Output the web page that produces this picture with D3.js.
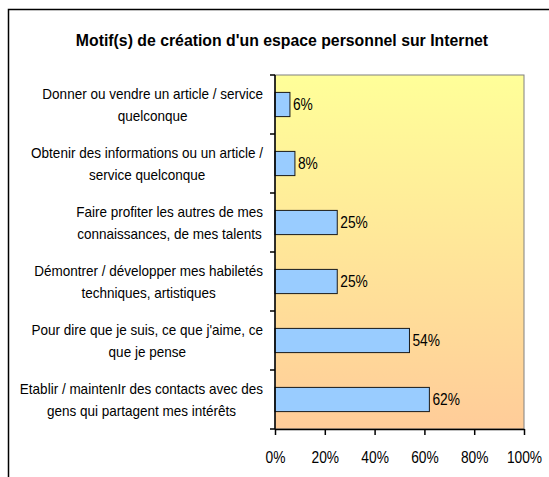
<!DOCTYPE html>
<html>
<head>
<meta charset="utf-8">
<script src="https://cdn.jsdelivr.net/npm/d3@7"></script>
<style>
  body { margin: 0; background: #fff; }
  text { font-family: "Liberation Sans", Arial, sans-serif; }
</style>
</head>
<body>
<div id="vis"></div>
<script>
const title = "Motif(s) de création d'un espace personnel sur Internet";

const categories = [
    ["Donner ou vendre un article / service", "quelconque"],
    ["Obtenir des informations ou un article /", "service quelconque"],
    ["Faire profiter les autres de mes", "connaissances, de mes talents"],
    ["Démontrer / développer mes habiletés", "techniques, artistiques"],
    ["Pour dire que je suis, ce que j'aime, ce", "que je pense"],
    ["Etablir / maintenIr des contacts avec des", "gens qui partagent mes intérêts"]
];
const values = [0.06, 0.08, 0.25, 0.25, 0.54, 0.62];
const xTicks = [0, 0.2, 0.4, 0.6, 0.8, 1];

// squeeze text horizontally (the original font is a narrow one)
function narrow(sel, k) {
    sel.each(function () {
        const len = this.getComputedTextLength();
        d3.select(this)
            .attr("textLength", len * k)
            .attr("lengthAdjust", "spacingAndGlyphs");
    });
}

const svg = d3.select("#vis")
    .append("svg")
    .attr("width", 549)
    .attr("height", 477);

// outer frame (runs off the right and bottom edges)
svg.append("rect")
    .attr("x", 8.5)
    .attr("y", 9.5)
    .attr("width", 600)
    .attr("height", 500)
    .attr("fill", "#fff")
    .attr("stroke", "#000")
    .attr("stroke-width", 1.5);

svg.append("text")
    .attr("x", 282)
    .attr("y", 46)
    .attr("text-anchor", "middle")
    .style("font-size", "17px")
    .style("font-weight", "bold")
    .text(title)
    .call(narrow, 0.93);

const plotL = 275, plotR = 524, plotT = 75, plotB = 429;

const x = d3.scaleLinear().domain([0, 1]).range([plotL, plotR]);
const y = d3.scaleBand()
    .domain(d3.range(categories.length))
    .range([plotT, plotB])
    .paddingInner(0.59)
    .paddingOuter(0.295);

const defs = svg.append("defs");
const grad = defs.append("linearGradient")
    .attr("id", "bg")
    .attr("x1", 0).attr("y1", 0)
    .attr("x2", 0).attr("y2", 1);
grad.append("stop").attr("offset", "0%").attr("stop-color", "#ffff99");
grad.append("stop").attr("offset", "100%").attr("stop-color", "#ffcc99");

svg.append("rect")
    .attr("x", plotL)
    .attr("y", plotT)
    .attr("width", plotR - plotL)
    .attr("height", plotB - plotT)
    .attr("fill", "url(#bg)")
    .attr("stroke", "#808080")
    .attr("stroke-width", 1);

// bars
svg.append("g")
    .selectAll("rect")
    .data(values)
    .enter()
    .append("rect")
    .attr("x", x(0))
    .attr("y", (d, i) => y(i))
    .attr("width", d => x(d) - x(0))
    .attr("height", y.bandwidth())
    .attr("fill", "#99ccff")
    .attr("stroke", "#1a1a1a")
    .attr("stroke-width", 1);

// value labels
svg.append("g")
    .selectAll("text")
    .data(values)
    .enter()
    .append("text")
    .attr("x", d => x(d) + 3)
    .attr("y", (d, i) => y(i) + y.bandwidth() / 2)
    .attr("dy", "0.36em")
    .style("font-size", "16px")
    .text(d => Math.round(d * 100) + "%")
    .call(narrow, 0.86);

// x axis
const xAxis = svg.append("g")
    .attr("transform", `translate(0,${plotB})`)
    .call(d3.axisBottom(x).tickValues(xTicks).tickFormat(d3.format(".0%")).tickSize(6).tickSizeOuter(0));
xAxis.select(".domain").attr("stroke", "#000").attr("stroke-width", 1.5);
xAxis.selectAll(".tick line").attr("stroke", "#000").attr("stroke-width", 1.5);
xAxis.selectAll(".tick text")
    .attr("y", 23)
    .style("font-size", "16px")
    .style("font-family", '"Liberation Sans", Arial, sans-serif')
    .attr("fill", "#000")
    .call(narrow, 0.86);

// y axis line + ticks at band boundaries
const step = (plotB - plotT) / categories.length;
const yAxis = svg.append("g");
yAxis.append("line")
    .attr("x1", plotL).attr("x2", plotL)
    .attr("y1", plotT).attr("y2", plotB)
    .attr("stroke", "#000").attr("stroke-width", 1.5);
yAxis.selectAll("line.tk")
    .data(d3.range(categories.length + 1))
    .enter()
    .append("line")
    .attr("class", "tk")
    .attr("x1", plotL - 5).attr("x2", plotL)
    .attr("y1", i => plotT + i * step)
    .attr("y2", i => plotT + i * step)
    .attr("stroke", "#000").attr("stroke-width", 1.5);

// category labels: centred lines in a right aligned block
const labelRight = 263;
const lineH = 22;
categories.forEach((lines, i) => {
    const cy = y(i) + y.bandwidth() / 2;
    const g = svg.append("g");
    const texts = g.selectAll("text")
        .data(lines)
        .enter()
        .append("text")
        .attr("text-anchor", "middle")
        .attr("y", (d, j) => cy + (j - (lines.length - 1) / 2) * lineH)
        .attr("dy", "0.36em")
        .style("font-size", "15px")
        .text(d => d)
        .call(narrow, 0.9);
    let w = 0;
    texts.each(function () { w = Math.max(w, +this.getAttribute("textLength")); });
    texts.attr("x", labelRight - w / 2);
});
</script>
</body>
</html>
